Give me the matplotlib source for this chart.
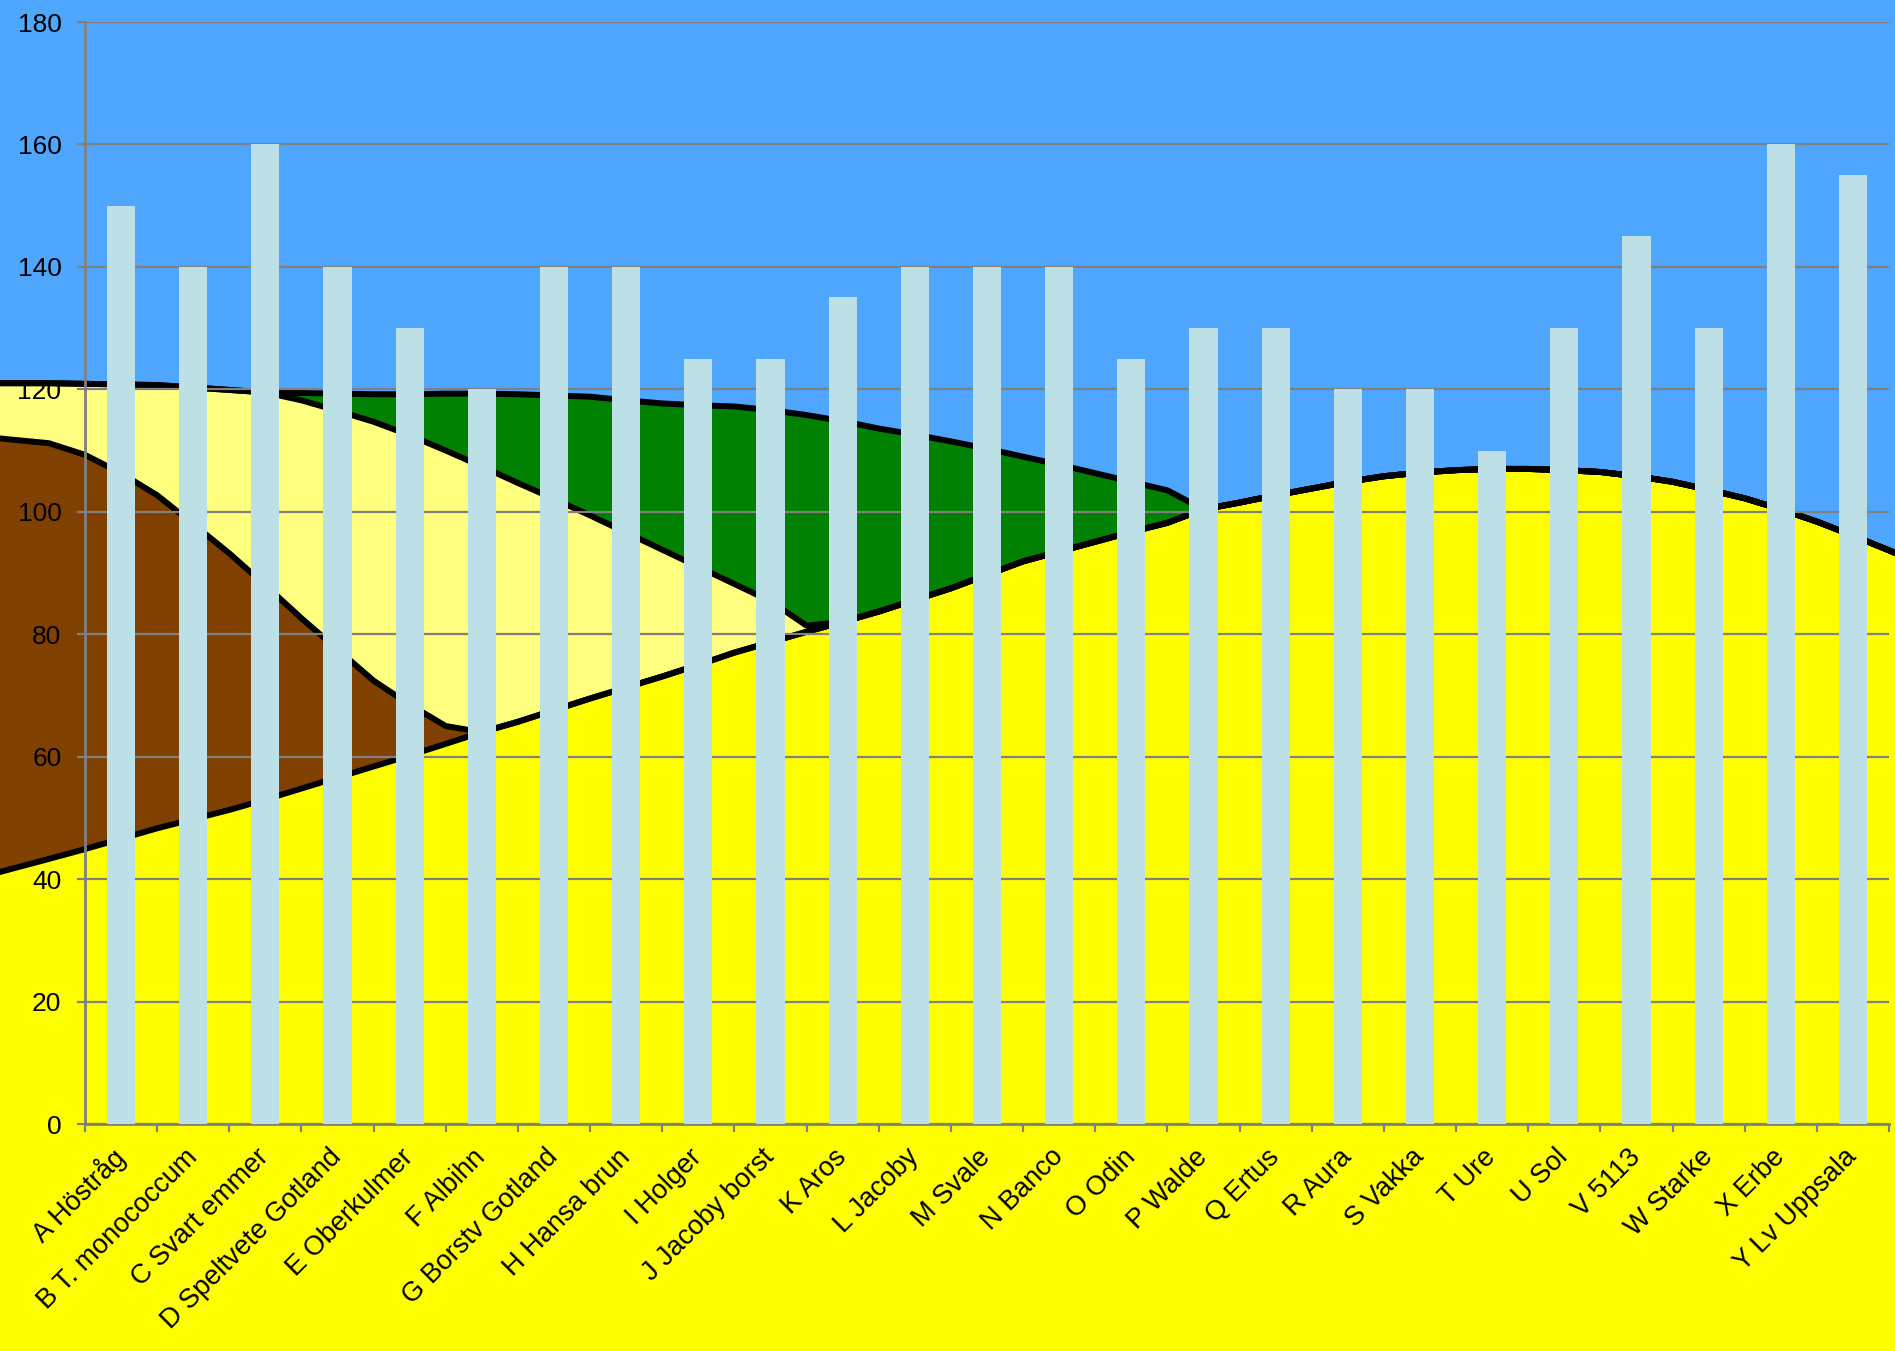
import matplotlib
matplotlib.use("Agg")
import matplotlib.pyplot as plt
import numpy as np

plt.rcParams['font.family'] = ['Liberation Sans', 'DejaVu Sans']

# --- data --------------------------------------------------------------
varieties = ["A Höstråg", "B T. monococcum", "C Svart emmer", "D Speltvete Gotland",
             "E Oberkulmer", "F Albihn", "G Borstv Gotland", "H Hansa brun", "I Holger",
             "J Jacoby borst", "K Aros", "L Jacoby", "M Svale", "N Banco", "O Odin",
             "P Walde", "Q Ertus", "R Aura", "S Vakka", "T Ure", "U Sol", "V 5113",
             "W Starke", "X Erbe", "Y Lv Uppsala"]
bar_height = [150, 140, 160, 140, 130, 120, 140, 140, 125, 125, 135, 140, 140,
              140, 125, 130, 130, 120, 120, 110, 130, 145, 130, 160, 155]

# background bands, sampled every half category (plus both picture edges)
band_x = [-1.7, -1.0] + list(np.arange(-0.5, 24.51, 0.5)) + [24.6]
yellow_band = [41.1, 43.3, 44.9, 46.6, 48.3, 49.8, 51.3, 53.0, 54.8, 56.6,
               58.4, 60.2, 62.1, 64.0, 65.7, 67.6, 69.5, 71.3, 73.1, 75.0,
               77.0, 78.7, 80.4, 82.0, 83.7, 85.6, 87.5, 89.7, 91.9, 93.5,
               95.1, 96.7, 98.2, 100.4, 101.5, 102.7, 103.8, 104.9, 105.8, 106.4,
               106.8, 107.0, 107.0, 106.8, 106.5, 105.8, 104.9, 103.6, 102.2, 100.4,
               98.4, 96.1, 93.7, 93.2]
brown_band = [70.9, 67.9, 64.4, 59.7, 54.4, 48.2, 41.9, 35.0, 27.8, 20.9,
              14.0, 8.3, 2.9] + [0] * 41
pale_band = [9.0, 9.8, 11.6, 14.5, 18.0, 22.3, 26.7, 31.5, 35.6, 39.0,
             42.3, 44.0, 45.0, 43.4, 39.0, 34.5, 29.9, 25.3, 20.7, 16.0,
             11.2, 6.7, 1.0] + [0] * 31
green_band = [0] * 8 + [1.2, 2.8, 4.5, 6.7, 9.3, 11.9, 14.5, 16.9, 19.4, 21.6,
                        23.9, 26.4, 29.0, 31.2, 34.4, 32.8, 29.9, 27.0, 24.0, 20.6,
                        17.1, 14.2, 11.2, 8.2, 5.3] + [0] * 21

# --- figure ------------------------------------------------------------
W, H = 1895, 1351
fig = plt.figure(figsize=(W / 100, H / 100), dpi=100, facecolor='#FFFF00')
left, bottom, right, top = 85 / W, 227 / H, 1889 / W, 1329 / H
xlo, xhi, ylo, yhi = -0.5, 24.5, 0, 180

# background axes over the whole picture, same data mapping as the chart
sx = (xhi - xlo) / (right - left)
sy = (yhi - ylo) / (top - bottom)
bx0, by0 = xlo - left * sx, ylo - bottom * sy
bg = fig.add_axes([0, 0, 1, 1], zorder=0)
bg.set_xlim(bx0, bx0 + sx)
bg.set_ylim(by0, by0 + sy)
bg.axis('off')

y0 = np.array(yellow_band)
y1 = y0 + np.array(brown_band)
y2 = y1 + np.array(pale_band)
y3 = y2 + np.array(green_band)
bg.fill_between(band_x, by0 - 10, y0, color='#FFFF00', lw=0)
bg.fill_between(band_x, y0, y1, color='#804000', lw=0)
bg.fill_between(band_x, y1, y2, color='#FFFF80', lw=0)
bg.fill_between(band_x, y2, y3, color='#008000', lw=0)
bg.fill_between(band_x, y3, by0 + sy + 10, color='#4FA6FF', lw=0)
for edge in (y0, y1, y2, y3):
    bg.plot(band_x, edge, color='black', lw=4.3, solid_capstyle='butt')

ax = fig.add_axes([left, bottom, right - left, top - bottom], zorder=1)
ax.patch.set_visible(False)
ax.bar(range(len(bar_height)), bar_height, width=0.39, color='#BDE0E6', zorder=3)

ax.set_xlim(xlo, xhi)
ax.set_ylim(ylo, yhi)
ax.set_axisbelow(True)
ax.yaxis.grid(True, color='#808080', lw=1.6)

ax.set_yticks(range(0, 181, 20))
ax.set_xticks(np.arange(-0.5, 25, 1))
ax.set_xticklabels([])
ax.set_xticks(range(len(varieties)), varieties, minor=True, rotation=45,
              ha='right', va='center', rotation_mode='anchor')
ax.tick_params(axis='x', which='major', length=6, width=1.6, color='#808080')
ax.tick_params(axis='x', which='minor', length=0, pad=21, labelsize=19.5)
ax.tick_params(axis='y', length=6, width=1.6, color='#808080', pad=11, labelsize=19)

for s in ('top', 'right'):
    ax.spines[s].set_visible(False)
for s in ('left', 'bottom'):
    ax.spines[s].set_color('#808080')
    ax.spines[s].set_linewidth(2)

fig.savefig('out.png', dpi=100, facecolor=fig.get_facecolor())
